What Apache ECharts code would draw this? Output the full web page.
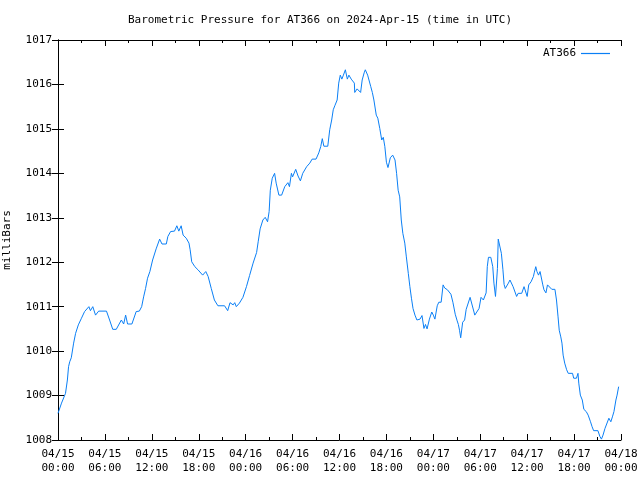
<!DOCTYPE html>
<html>
<head>
<meta charset="utf-8">
<script src="https://cdn.jsdelivr.net/npm/echarts@6/dist/echarts.min.js"></script>
<style>html,body{margin:0;padding:0;background:#fff}#c{width:640px;height:480px}</style>
</head>
<body>
<div id="c"></div>
<script>
// hours since 2024-04-15 00:00 UTC
var hours = [0,0.45,0.96,1.2,1.35,1.5,1.7,2.0,2.25,2.6,3.0,3.4,3.95,4.15,4.45,4.8,5.2,6.2,6.6,6.8,7.0,7.45,8.1,8.4,8.65,8.9,9.45,10.0,10.4,10.7,10.95,11.2,11.45,11.75,12.1,12.55,13.0,13.3,13.85,14.05,14.4,14.9,15.2,15.45,15.75,16.0,16.4,16.75,16.9,17.1,17.5,17.9,18.5,18.9,19.2,19.6,20.0,20.45,21.3,21.7,22.0,22.4,22.6,22.8,23.2,23.65,24.1,24.5,24.95,25.4,25.6,25.85,26.2,26.5,26.8,27.0,27.15,27.4,27.7,27.9,28.25,28.6,29.0,29.4,29.6,29.85,30.0,30.4,30.7,31.0,31.3,31.5,31.8,32.2,32.5,33.0,33.35,33.6,33.8,34.0,34.5,34.75,35.0,35.2,35.4,35.7,35.9,36.1,36.3,36.5,36.75,37.0,37.2,37.5,37.9,37.95,38.25,38.7,38.9,39.15,39.3,39.6,39.8,40.0,40.2,40.4,40.7,40.9,41.15,41.4,41.6,41.8,42.0,42.2,42.5,42.8,43.1,43.3,43.5,43.7,43.9,44.1,44.35,44.55,44.8,45.0,45.2,45.4,45.65,45.9,46.3,46.55,46.8,47.0,47.2,47.5,47.8,48.0,48.2,48.5,48.7,49.0,49.25,49.45,49.8,50.25,50.5,50.8,51.05,51.2,51.35,51.5,51.75,52.0,52.2,52.45,52.7,52.95,53.2,53.3,53.55,53.85,54.1,54.4,54.6,54.75,54.9,55.05,55.35,55.6,55.75,55.95,56.1,56.2,56.3,56.55,56.7,56.9,57.05,57.2,57.4,57.6,57.8,58.0,58.2,58.4,58.65,58.85,59.3,59.6,59.85,60.0,60.2,60.5,60.8,60.9,61.1,61.25,61.45,61.65,61.85,62.0,62.15,62.4,62.6,62.85,63.15,63.55,63.75,63.95,64.1,64.3,64.45,64.6,64.8,65.05,65.25,65.8,65.95,66.3,66.5,66.6,66.8,67.05,67.25,67.55,67.8,68.1,68.3,68.5,69.05,69.3,69.5,69.7,69.95,70.15,70.45,70.7,70.9,71.1,71.35,71.5,71.7];
var pressure = [1008.6,1008.83,1009.05,1009.35,1009.65,1009.76,1009.85,1010.18,1010.4,1010.59,1010.74,1010.89,1011.0,1010.91,1011.0,1010.81,1010.9,1010.9,1010.7,1010.7,1010.49,1010.49,1010.7,1010.61,1010.81,1010.61,1010.61,1010.89,1010.9,1011.0,1011.22,1011.41,1011.64,1011.79,1012.05,1012.3,1012.52,1012.41,1012.41,1012.58,1012.69,1012.7,1012.82,1012.7,1012.82,1012.61,1012.54,1012.43,1012.28,1012.01,1011.9,1011.83,1011.71,1011.79,1011.68,1011.41,1011.15,1011.02,1011.02,1010.91,1011.09,1011.04,1011.09,1011.0,1011.08,1011.21,1011.45,1011.7,1011.98,1012.22,1012.46,1012.75,1012.95,1013.01,1012.91,1013.14,1013.62,1013.89,1014.0,1013.78,1013.51,1013.51,1013.7,1013.79,1013.7,1014.0,1013.92,1014.09,1013.94,1013.83,1014.0,1014.0,1014.15,1014.23,1014.32,1014.32,1014.46,1014.6,1014.78,1014.61,1014.61,1014.98,1015.2,1015.43,1015.52,1015.65,1016.03,1016.21,1016.12,1016.21,1016.33,1016.12,1016.21,1016.12,1016.03,1015.82,1015.9,1015.82,1016.1,1016.26,1016.33,1016.21,1016.21,1015.95,1015.82,1015.65,1015.31,1015.24,1015.01,1014.75,1014.81,1014.6,1014.25,1014.13,1014.35,1014.41,1014.3,1014.0,1013.62,1013.47,1012.95,1012.65,1012.43,1012.12,1011.75,1011.45,1011.19,1010.96,1010.81,1010.7,1010.72,1010.8,1010.51,1010.6,1010.5,1010.72,1010.88,1010.81,1010.72,1011.02,1011.1,1011.1,1011.49,1011.42,1011.38,1011.28,1011.1,1010.83,1010.68,1010.6,1010.47,1010.3,1010.65,1010.7,1010.94,1010.95,1011.21,1011.21,1010.88,1010.81,1010.81,1010.96,1011.21,1011.15,1011.19,1011.31,1011.9,1012.11,1012.11,1011.9,1011.53,1011.23,1011.6,1011.86,1012.52,1012.52,1012.2,1011.83,1011.5,1011.41,1011.45,1011.53,1011.6,1011.6,1011.45,1011.49,1011.23,1011.3,1011.3,1011.45,1011.49,1011.23,1011.49,1011.56,1011.68,1011.76,1011.9,1011.79,1011.71,1011.79,1011.79,1011.49,1011.38,1011.31,1011.49,1011.49,1011.39,1011.39,1011.15,1010.77,1010.47,1010.32,1010.18,1009.91,1009.73,1009.58,1009.5,1009.5,1009.39,1009.39,1009.5,1009.28,1009.01,1008.9,1008.69,1008.64,1008.56,1008.41,1008.3,1008.21,1008.21,1008.08,1008.02,1008.11,1008.26,1008.3,1008.49,1008.41,1008.52,1008.64,1008.9,1009.01,1009.2];
var xTickDays = ['04/15','04/16','04/17','04/18'];
var seriesName = 'AT366';
var titleText = 'Barometric Pressure for AT366 on 2024-Apr-15 (time in UTC)';
var yName = 'milliBars';

var data = hours.map(function (h, i) { return [h, pressure[i]]; });
var FONT = '"DejaVu Sans Mono", "Liberation Mono", monospace';
function xLabel(v) {
  var d = Math.floor(v / 24);
  var hh = v - d * 24;
  return xTickDays[d] + '\n' + (hh < 10 ? '0' : '') + hh + ':00';
}
var chart = echarts.init(document.getElementById('c'), null, {renderer: 'canvas'});
var tickCommon = {show: true, inside: true, length: 6, lineStyle: {color: '#000', width: 1}};
var minorCommon = {show: true, splitNumber: 2, length: 3, lineStyle: {color: '#000', width: 1}};
chart.setOption({
  animation: false,
  backgroundColor: '#fff',
  title: {
    text: titleText, left: 'center', top: 10,
    textStyle: {fontFamily: FONT, fontSize: 11, fontWeight: 'normal', color: '#000'}
  },
  legend: {
    data: [seriesName], right: 25, top: 43, align: 'right',
    icon: 'rect', itemWidth: 29, itemHeight: 1.2, itemGap: 7,
    textStyle: {fontFamily: FONT, fontSize: 11, color: '#000'}
  },
  grid: {left: 58, right: 19, top: 40, bottom: 40, containLabel: false, outerBoundsMode: 'none'},
  xAxis: [{
    type: 'value', min: 0, max: 72, interval: 6,
    axisLine: {show: true, lineStyle: {color: '#000', width: 1}},
    axisTick: tickCommon, minorTick: minorCommon,
    splitLine: {show: false},
    axisLabel: {formatter: xLabel, fontFamily: FONT, fontSize: 11, color: '#000', lineHeight: 14, margin: 7, showMinLabel: true, showMaxLabel: true, hideOverlap: false}
  }, {
    type: 'value', min: 0, max: 72, interval: 6, position: 'top',
    axisLine: {show: true, lineStyle: {color: '#000', width: 1}},
    axisTick: tickCommon, minorTick: minorCommon,
    splitLine: {show: false}, axisLabel: {show: false}
  }],
  yAxis: [{
    type: 'value', min: 1008, max: 1017, interval: 1, position: 'left',
    name: yName, nameLocation: 'middle', nameRotate: 90, nameGap: 45,
    nameTextStyle: {fontFamily: FONT, fontSize: 11, color: '#000'},
    axisLine: {show: true, lineStyle: {color: '#000', width: 1}},
    axisTick: tickCommon,
    splitLine: {show: false},
    axisLabel: {formatter: function (v) { return String(v); }, fontFamily: FONT, fontSize: 11, color: '#000', margin: 6}
  }, {
    type: 'value', min: 1008, max: 1017, interval: 1, position: 'right',
    axisLine: {show: true, lineStyle: {color: '#000', width: 1}},
    axisTick: tickCommon,
    splitLine: {show: false}, axisLabel: {show: false}
  }],
  series: [{
    name: seriesName, type: 'line', data: data,
    xAxisIndex: 0, yAxisIndex: 0,
    showSymbol: false, symbol: 'none',
    lineStyle: {color: '#0a7ff5', width: 1},
    itemStyle: {color: '#0a7ff5'}
  }]
});
</script>
</body>
</html>
